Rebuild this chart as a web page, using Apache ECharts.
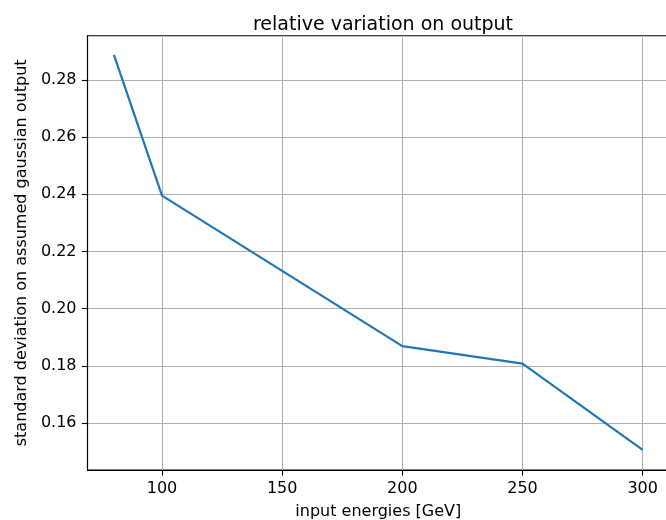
<!DOCTYPE html>
<html>
<head>
<meta charset="utf-8">
<script src="https://cdn.jsdelivr.net/npm/echarts@6/dist/echarts.min.js"></script>
<style>html,body{margin:0;padding:0;background:#fff}#chart{width:666px;height:520px}</style>
</head>
<body>
<div id="chart"></div>
<script>
const energies = [80, 100, 200, 250, 300];
const sigma = [0.2887, 0.2395, 0.1869, 0.1808, 0.1506];
const xTicks = [100, 150, 200, 250, 300];
const yTicks = [0.16, 0.18, 0.20, 0.22, 0.24, 0.26, 0.28];

const font = "'DejaVu Sans', sans-serif";
const chart = echarts.init(document.getElementById('chart'), null, {renderer: 'canvas'});
chart.setOption({
  animation: false,
  backgroundColor: '#fff',
  title: {
    text: 'relative variation on output',
    left: 378, top: 10.5, textAlign: 'center',
    textStyle: {fontFamily: font, fontSize: 19, fontWeight: 'normal', color: '#000'}
  },
  grid: {left: 87.5, top: 35.7, width: 581.6, bottom: 50, show: true, borderColor: '#000', borderWidth: 1.1, containLabel: false, outerBoundsMode: 'none'},
  xAxis: {
    type: 'value', min: 69, max: 311, splitNumber: 5,
    name: 'input energies [GeV]', nameLocation: 'middle', nameGap: 34,
    nameTextStyle: {fontFamily: font, fontSize: 16, color: '#000'},
    axisLine: {show: true, onZero: false, lineStyle: {color: '#000', width: 1.1}},
    axisTick: {show: true, length: 5.6, customValues: xTicks, lineStyle: {color: '#000', width: 1.1}},
    axisLabel: {customValues: xTicks, margin: 11, fontFamily: font, fontSize: 16, color: '#000', formatter: v => String(v)},
    splitLine: {show: true, lineStyle: {color: '#b0b0b0', width: 1.1}}
  },
  yAxis: {
    type: 'value', min: 0.1436, max: 0.2954, splitNumber: 7,
    name: 'standard deviation on assumed gaussian output', nameLocation: 'middle', nameGap: 56,
    nameTextStyle: {fontFamily: font, fontSize: 16, color: '#000'},
    axisLine: {show: true, onZero: false, lineStyle: {color: '#000', width: 1.1}},
    axisTick: {show: true, length: 5.6, customValues: yTicks, lineStyle: {color: '#000', width: 1.1}},
    axisLabel: {customValues: yTicks, margin: 11, fontFamily: font, fontSize: 16, color: '#000', formatter: v => v.toFixed(2)},
    splitLine: {show: true, lineStyle: {color: '#b0b0b0', width: 1.1}}
  },
  series: [{
    type: 'line',
    data: energies.map((e, i) => [e, sigma[i]]),
    showSymbol: false,
    symbol: 'none',
    lineStyle: {color: '#1f77b4', width: 2.2},
    itemStyle: {color: '#1f77b4'}
  }]
});
</script>
</body>
</html>
